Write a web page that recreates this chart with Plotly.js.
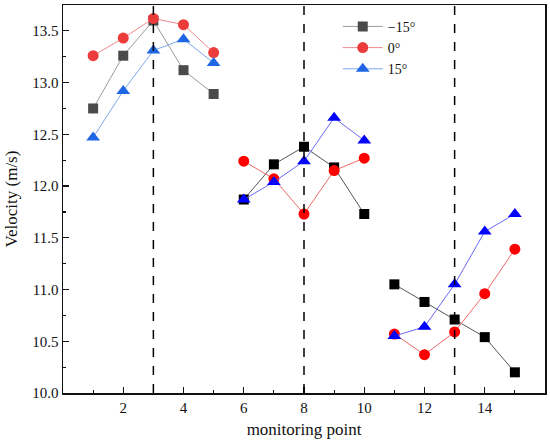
<!DOCTYPE html>
<html>
<head>
<meta charset="utf-8">
<script src="https://cdn.plot.ly/plotly-3.0.1.min.js"></script>
<style>html,body{margin:0;padding:0;background:#fff}#chart{width:550px;height:442px}</style>
</head>
<body>
<div id="chart"></div>
<script>
// monitoring points
const points = [1,2,3,4,5,6,7,8,9,10,11,12,13,14,15];
// velocity (m/s) per inclination angle
const velMinus15 = [12.75,13.26,13.60,13.12,12.89, 11.87,12.21,12.38,12.18,11.73, 11.05,10.88,10.71,10.54,10.20];
const vel0       = [13.26,13.43,13.62,13.56,13.29, 12.24,12.07,11.73,12.15,12.27, 10.57,10.37,10.59,10.96,11.39];
const vel15      = [12.47,12.92,13.31,13.42,13.19, 11.87,12.04,12.24,12.66,12.44, 10.55,10.64,11.05,11.56,11.73];
const seriesNames = ['\u221215\u00b0','0\u00b0','15\u00b0'];
// segment boundaries (index ranges) and section markers
const segments = [[0,5],[5,10],[10,15]];
const sectionLines = [3,8,13];

const series = [velMinus15, vel0, vel15];
const styles = [
  {symbol:'square', size:10, seg:[{m:'#4a4a4a',l:'#9a9a9a'},{m:'#000000',l:'#555555'},{m:'#000000',l:'#555555'}]},
  {symbol:'circle', size:11, seg:[{m:'#ec3b3b',l:'#f08a8a'},{m:'#ff0000',l:'#f06a6a'},{m:'#ff0000',l:'#f06a6a'}]},
  {symbol:'triangle-up', size:12, seg:[{m:'#1f66e5',l:'#7aa8ee'},{m:'#0000ff',l:'#6a6af5'},{m:'#0000ff',l:'#6a6af5'}]}
];

const traces = [];
series.forEach((vals, si) => {
  segments.forEach((seg, gi) => {
    const st = styles[si];
    traces.push({
      x: points.slice(seg[0], seg[1]),
      y: vals.slice(seg[0], seg[1]),
      type: 'scatter', mode: 'lines+markers',
      name: seriesNames[si],
      legendgroup: 's' + si,
      showlegend: gi === 0,
      line: {color: st.seg[gi].l, width: 1},
      marker: {symbol: st.symbol, size: st.size, color: st.seg[gi].m}
    });
  });
});

const shapes = sectionLines.map(xv => ({
  type:'line', xref:'x', yref:'paper', x0:xv, x1:xv, y0:0, y1:1,
  line:{color:'#000', width:1.5, dash:'dash'}
}));

const tickFont = {family:'Liberation Serif, Times New Roman, serif', size:15, color:'#111'};
const titleFont = {family:'Liberation Serif, Times New Roman, serif', size:17, color:'#111'};

const layout = {
  width:550, height:442,
  margin:{l:63, r:5, t:5, b:49},
  paper_bgcolor:'#fff', plot_bgcolor:'#fff',
  font: tickFont,
  showlegend:true,
  legend:{x:0.57, y:0.985, xanchor:'left', yanchor:'top', bgcolor:'rgba(0,0,0,0)',
          font:{family:'Liberation Serif, serif', size:14, color:'#111'}, tracegroupgap:0, itemwidth:40},
  xaxis:{
    range:[0,16], tickmode:'array', tickvals:[2,4,6,8,10,12,14],
    ticks:'inside', ticklen:6, tickwidth:1.2, tickcolor:'#111',
    minor:{tickvals:[1,3,5,7,9,11,13,15], ticks:'inside', ticklen:3, tickcolor:'#111', showgrid:false},
    showgrid:false, zeroline:false, showline:true, linecolor:'#111', linewidth:1.5, mirror:true,
    tickfont:tickFont,
    title:{text:'monitoring point', font:titleFont, standoff:8}
  },
  yaxis:{
    range:[10.0,13.75], tickmode:'array', tickvals:[10.0,10.5,11.0,11.5,12.0,12.5,13.0,13.5],
    ticktext:['10.0','10.5','11.0','11.5','12.0','12.5','13.0','13.5'],
    ticks:'inside', ticklen:6, tickwidth:1.2, tickcolor:'#111',
    minor:{tickvals:[10.25,10.75,11.25,11.75,12.25,12.75,13.25], ticks:'inside', ticklen:3, tickcolor:'#111', showgrid:false},
    showgrid:false, zeroline:false, showline:true, linecolor:'#111', linewidth:1.5, mirror:true,
    tickfont:tickFont,
    title:{text:'Velocity (m/s)', font:titleFont, standoff:10}
  },
  shapes: shapes
};

Plotly.newPlot('chart', traces, layout, {displayModeBar:false, staticPlot:true});
</script>
</body>
</html>
